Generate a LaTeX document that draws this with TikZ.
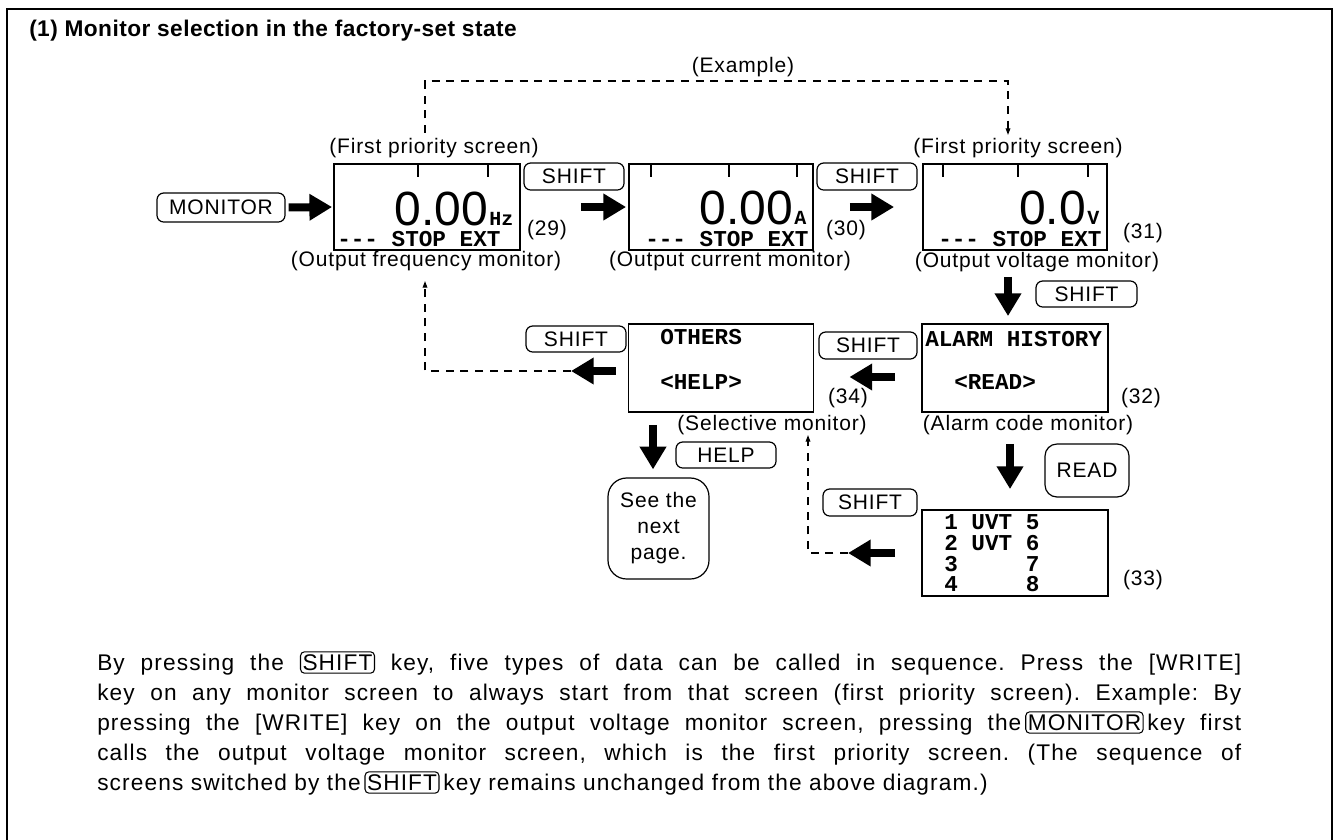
\documentclass[tikz,border=0pt]{standalone}
\usepackage{fontspec}
\setmainfont{Liberation Sans}
\newfontfamily\labf{Liberation Sans}[LetterSpace=4]
\newfontfamily\titf{Liberation Sans}[LetterSpace=2]
\newfontfamily\bodyf{Liberation Sans}[LetterSpace=5]
\newfontfamily\lcdf{Liberation Mono}
\usetikzlibrary{arrows.meta}
\newcommand\labfont{\labf\fontsize{15.75}{18}\selectfont}
\newcommand\lcdfont{\lcdf\bfseries\fontsize{17}{17}\selectfont}
\newcommand\unitfont{\lcdf\bfseries\fontsize{15}{15}\selectfont}
\newcommand\digfont{\fontsize{36}{36}\selectfont}
\newcommand\ikey[1]{\tikz[baseline=(ik.base)]\node[draw,line width=0.8pt,rounded corners=3pt,inner xsep=1.5pt,inner ysep=2pt](ik){#1};}
\begin{document}
\begin{tikzpicture}[x=0.75pt,y=-0.75pt,
  lab/.style={font=\labfont, inner sep=0pt},
  keybox/.style={draw, line width=0.9pt, rounded corners=5pt, font=\labfont, inner sep=0pt},
  screen/.style={draw, line width=1.4pt, inner sep=0pt},
  lcd/.style={font=\lcdfont, inner sep=0pt},
  fat/.style={line width=6pt, -{Triangle[length=17pt,width=19pt]}},
  dashline/.style={line width=0.9pt, dash pattern=on 6pt off 5pt},
  smalltip/.style={-{Triangle[length=5pt,width=3.5pt]}}]
\useasboundingbox (0,0) rectangle (1334,839);
% frame
\draw[line width=1.5pt] (7,850) -- (7,9) -- (1332,9) -- (1332,850);
% title
\node[anchor=west, inner sep=0pt, font=\titf\bfseries\fontsize{17}{19}\selectfont] (title) at (29,31) {(1) Monitor selection in the factory-set state};

% screens
\node[screen, minimum width=186*0.75pt, minimum height=86*0.75pt] (s1) at (427,207) {};
\node[screen, minimum width=184*0.75pt, minimum height=86*0.75pt] (s2) at (721,207) {};
\node[screen, minimum width=184*0.75pt, minimum height=86*0.75pt] (s3) at (1015,207) {};
\node[screen, minimum width=186*0.75pt, minimum height=88*0.75pt] (alarm) at (1015,368) {};
\node[screen, minimum width=185*0.75pt, minimum height=88*0.75pt] (others) at (721,368) {};
\node[screen, minimum width=186*0.75pt, minimum height=86*0.75pt] (list) at (1015,553) {};

% ticks
\foreach \t in {418,488} \draw[line width=1.2pt] (\t,164) -- (\t,177);
\foreach \t in {651,729,797} \draw[line width=1.2pt] (\t,164) -- (\t,177);
\foreach \t in {943,1018,1088} \draw[line width=1.2pt] (\t,164) -- (\t,177);

% screen contents
\node[anchor=base east, inner sep=0pt, font=\digfont] (d1) at (488,225) {0.00};
\node[anchor=base west, inner sep=0pt, font=\unitfont] (u1) at (489,225) {Hz};
\node[anchor=base west, lcd] (st1) at (337,246.5) {-{}-{}- STOP EXT};
\node[anchor=base east, inner sep=0pt, font=\digfont] (d2) at (793,224) {0.00};
\node[anchor=base west, inner sep=0pt, font=\unitfont] (u2) at (794,224) {A};
\node[anchor=base west, lcd] (st2) at (645,246.5) {-{}-{}- STOP EXT};
\node[anchor=base east, inner sep=0pt, font=\digfont] (d3) at (1086,224) {0.0};
\node[anchor=base west, inner sep=0pt, font=\unitfont] (u3) at (1087,224) {V};
\node[anchor=base west, lcd] (st3) at (938,246.5) {-{}-{}- STOP EXT};

\node[anchor=base west, lcd] (ah) at (925,346) {ALARM HISTORY};
\node[anchor=base west, lcd] (rd) at (954,389) {<READ>};
\node[anchor=base west, lcd] (ot) at (660,344) {OTHERS};
\node[anchor=base west, lcd] (hp) at (660,389) {<HELP>};
\node[anchor=base west, lcd] (li1) at (944,529.5) {1 UVT 5};
\node[anchor=base west, lcd] (li2) at (944,550.5) {2 UVT 6};
\node[anchor=base west, lcd] (li3) at (944,571.5) {3\ \ \ \ \ 7};
\node[anchor=base west, lcd] (li4) at (944,591.5) {4\ \ \ \ \ 8};

% labels
\node[lab] (fp1) at (434,148) {(First priority screen)};
\node[lab] (fp3) at (1018,148) {(First priority screen)};
\node[lab] (lfreq) at (426,261) {(Output frequency monitor)};
\node[lab] (lcur) at (730,261) {(Output current monitor)};
\node[lab] (lvolt) at (1037,262) {(Output voltage monitor)};
\node[lab] (lsel) at (772,425) {(Selective monitor)};
\node[lab] (lalarm) at (1028,425) {(Alarm code monitor)};
\node[lab] (n29) at (547,230) {(29)};
\node[lab] (n30) at (846,230) {(30)};
\node[lab] (n31) at (1143,233) {(31)};
\node[lab] (n32) at (1141,398) {(32)};
\node[lab] (n33) at (1143,580) {(33)};
\node[lab] (n34) at (848,398) {(34)};
\node[lab] (exl) at (743,67) {(Example)};

% keys
\node[keybox, minimum width=128*0.75pt, minimum height=29*0.75pt] (monitor) at (221,207.5) {MONITOR};
\node[keybox, minimum width=100*0.75pt, minimum height=27*0.75pt] (sh1) at (574,176.5) {SHIFT};
\node[keybox, minimum width=100*0.75pt, minimum height=27*0.75pt] (sh2) at (867,176.5) {SHIFT};
\node[keybox, minimum width=101*0.75pt, minimum height=26*0.75pt] (sh3) at (1086.5,294) {SHIFT};
\node[keybox, minimum width=98*0.75pt, minimum height=27*0.75pt] (sh4) at (868,345.5) {SHIFT};
\node[keybox, minimum width=100*0.75pt, minimum height=26*0.75pt] (sh5) at (576,339) {SHIFT};
\node[keybox, minimum width=94*0.75pt, minimum height=27*0.75pt] (sh6) at (870,502.5) {SHIFT};
\node[keybox, minimum width=100*0.75pt, minimum height=26*0.75pt] (help) at (726,455) {HELP};
\node[keybox, rounded corners=9pt, minimum width=84*0.75pt, minimum height=53*0.75pt] (read) at (1087,470.5) {READ};
\node[keybox, rounded corners=14pt, align=center, font=\labf\fontsize{15.75}{19.5}\selectfont, minimum width=101*0.75pt, minimum height=101*0.75pt] (see) at (658.5,528.5) {See the\\next\\page.};

% fat arrows
\draw[fat, shorten <=2.25pt, shorten >=0.75pt] (monitor.east) -- (s1.west);
\draw[fat, shorten <=45pt, shorten >=1.5pt] (s1.east) -- (s2.west);
\draw[fat, shorten <=27pt, shorten >=21pt] (s2.east) -- (s3.west);
\draw[fat, shorten <=19.5pt, shorten >=5.25pt] ([xshift=-5.25pt]s3.south) -- ([xshift=-5.25pt]alarm.north);
\draw[fat, shorten <=19.5pt, shorten >=26.25pt] ([yshift=-6.75pt]alarm.west) -- ([yshift=-6.75pt]others.east);
\coordinate (c1) at (571,371);
\draw[fat, shorten <=9pt] ([yshift=-2.25pt]others.west) -- (c1);
\draw[fat, shorten <=9pt, shorten >=6pt] ([xshift=-51pt]others.south) -- ([xshift=-4.125pt]see.north);
\draw[fat, shorten <=23.25pt, shorten >=15pt] ([xshift=-3.75pt]alarm.south) -- ([xshift=-3.75pt]list.north);
\coordinate (c2) at (848,553);
\draw[fat, shorten <=19.5pt] (list.west) -- (c2);

% dashed connectors
\draw[dashline, smalltip, shorten >=7.5pt] (c1) -| ([xshift=-0.75pt]lfreq.south);
\coordinate (ex) at (1008,81);
\draw[dashline, smalltip, shorten <=3.75pt, shorten >=2.25pt] ([xshift=-6.75pt]fp1.north) |- (ex) -- ([xshift=-7.5pt]fp3.north);
\draw[dashline, smalltip] (c2) -| ([xshift=27pt]lsel.south);

% body text
\node[anchor=north west, text width=858pt, align=justify, inner sep=0pt, font=\bodyf\fontsize{17}{22.5}\selectfont\frenchspacing] (body) at (97,651) {%
By pressing the \ikey{SHIFT} key, five types of data can be called in sequence. Press the [WRITE]\linebreak
key on any monitor screen to always start from that screen (first priority screen). Example: By\linebreak
pressing the [WRITE] key on the output voltage monitor screen, pressing the\,\ikey{MONITOR}\,key first\linebreak
calls the output voltage monitor screen, which is the first priority screen. (The sequence of\linebreak
screens switched by the\,\ikey{SHIFT}\,key remains unchanged from the above diagram.)};
\end{tikzpicture}
\end{document}
